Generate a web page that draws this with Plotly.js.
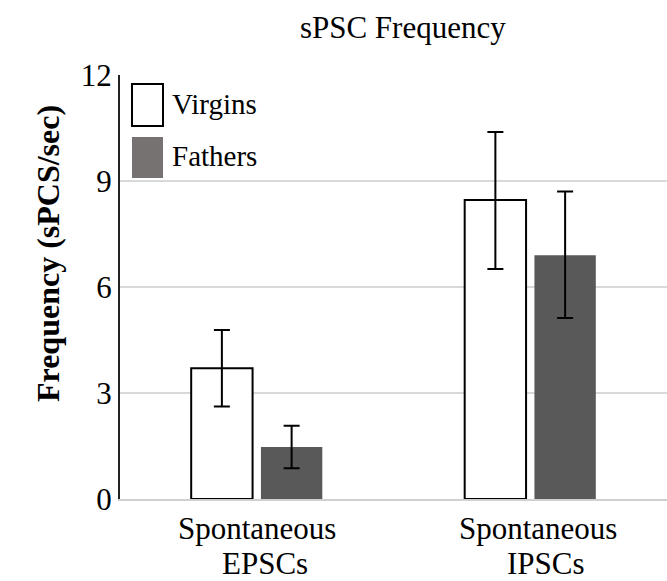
<!DOCTYPE html>
<html>
<head>
<meta charset="utf-8">
<script src="https://cdn.plot.ly/plotly-3.0.1.min.js"></script>
<style>html,body{margin:0;padding:0;background:#fff;}#chart{width:667px;height:581px;}</style>
</head>
<body>
<div id="chart"></div>
<script>
const categories = ["Spontaneous EPSCs", "Spontaneous IPSCs"];
const categoryLine1 = ["Spontaneous", "Spontaneous"];
const categoryLine2 = ["EPSCs", "IPSCs"];
const seriesNames = ["Virgins", "Fathers"];
const virgins = [3.7, 8.46];
const virginsErrPlus = [1.08, 1.93];
const virginsErrMinus = [1.08, 1.95];
const fathers = [1.47, 6.9];
const fathersErrPlus = [0.6, 1.8];
const fathersErrMinus = [0.6, 1.78];
const yTicks = [0, 3, 6, 9, 12];
const yTitle = "Frequency (sPCS/sec)";

const serif = "Liberation Serif, Times New Roman, serif";
const labelShift = [0, 8];

const traces = [
  {
    type: "bar", name: seriesNames[0], x: categories, y: virgins,
    marker: {color: "#ffffff", line: {color: "#000000", width: 2}},
    error_y: {type: "data", symmetric: false, array: virginsErrPlus, arrayminus: virginsErrMinus,
              color: "#000000", thickness: 2, width: 8},
    showlegend: false, hoverinfo: "skip"
  },
  {
    type: "bar", name: seriesNames[1], x: categories, y: fathers,
    marker: {color: "#595959", line: {width: 0}},
    error_y: {type: "data", symmetric: false, array: fathersErrPlus, arrayminus: fathersErrMinus,
              color: "#000000", thickness: 2, width: 8},
    showlegend: false, hoverinfo: "skip"
  }
];

const annotations = [
  {xref: "paper", yref: "paper", x: 50/547, y: 1-(104-75)/424, xanchor: "left", yanchor: "middle",
   text: seriesNames[0], showarrow: false, font: {family: serif, size: 29, color: "#000"}},
  {xref: "paper", yref: "paper", x: 50/547, y: 1-(156-75)/424, xanchor: "left", yanchor: "middle",
   text: seriesNames[1], showarrow: false, font: {family: serif, size: 29, color: "#000"}},
  {xref: "paper", yref: "paper", x: (48-120)/547, y: 1-(254-75)/424, xanchor: "center", yanchor: "middle",
   textangle: -90, text: "<b>" + yTitle + "</b>", showarrow: false,
   font: {family: serif, size: 32, color: "#000"}}
];
categories.forEach((c, i) => {
  annotations.push({xref: "x", yref: "paper", x: c, y: -(528-499)/424, yanchor: "middle", xshift: labelShift[i],
    text: categoryLine1[i], showarrow: false, font: {family: serif, size: 31, color: "#000"}});
  annotations.push({xref: "x", yref: "paper", x: c, y: -(563-499)/424, yanchor: "middle", xshift: 8 + labelShift[i],
    text: categoryLine2[i], showarrow: false, font: {family: serif, size: 31, color: "#000"}});
});

const layout = {
  width: 667, height: 581,
  margin: {l: 120, r: 0, t: 75, b: 82},
  paper_bgcolor: "#ffffff", plot_bgcolor: "#ffffff",
  barmode: "group", bargap: 0.49, bargroupgap: 0.12,
  title: {text: "sPSC Frequency", x: 0.517, xref: "paper", y: 0.953, yanchor: "middle",
          font: {family: serif, size: 31, color: "#000"}},
  xaxis: {
    type: "category", range: [-0.5, 1.5],
    showline: true, linecolor: "#d0d0d0", linewidth: 2,
    ticks: "", showgrid: false, showticklabels: false
  },
  yaxis: {
    range: [0, 12], tickvals: yTicks, ticktext: yTicks.map(String),
    showline: true, linecolor: "#222", linewidth: 2,
    showgrid: true, gridcolor: "#d9d9d9", gridwidth: 2,
    zeroline: false, ticks: "", ticklen: 0,
    tickfont: {family: serif, size: 31, color: "#000"}
  },
  shapes: [
    {type: "rect", xref: "paper", yref: "paper", x0: 12/547, x1: 43/547, y0: 1-(84-75)/424, y1: 1-(126-75)/424,
     line: {color: "#000", width: 2}, fillcolor: "#fff"},
    {type: "rect", xref: "paper", yref: "paper", x0: 12/547, x1: 43/547, y0: 1-(137-75)/424, y1: 1-(178-75)/424,
     line: {width: 0}, fillcolor: "#767272"}
  ],
  annotations: annotations
};

Plotly.newPlot("chart", traces, layout, {displayModeBar: false, staticPlot: true});
</script>
</body>
</html>
